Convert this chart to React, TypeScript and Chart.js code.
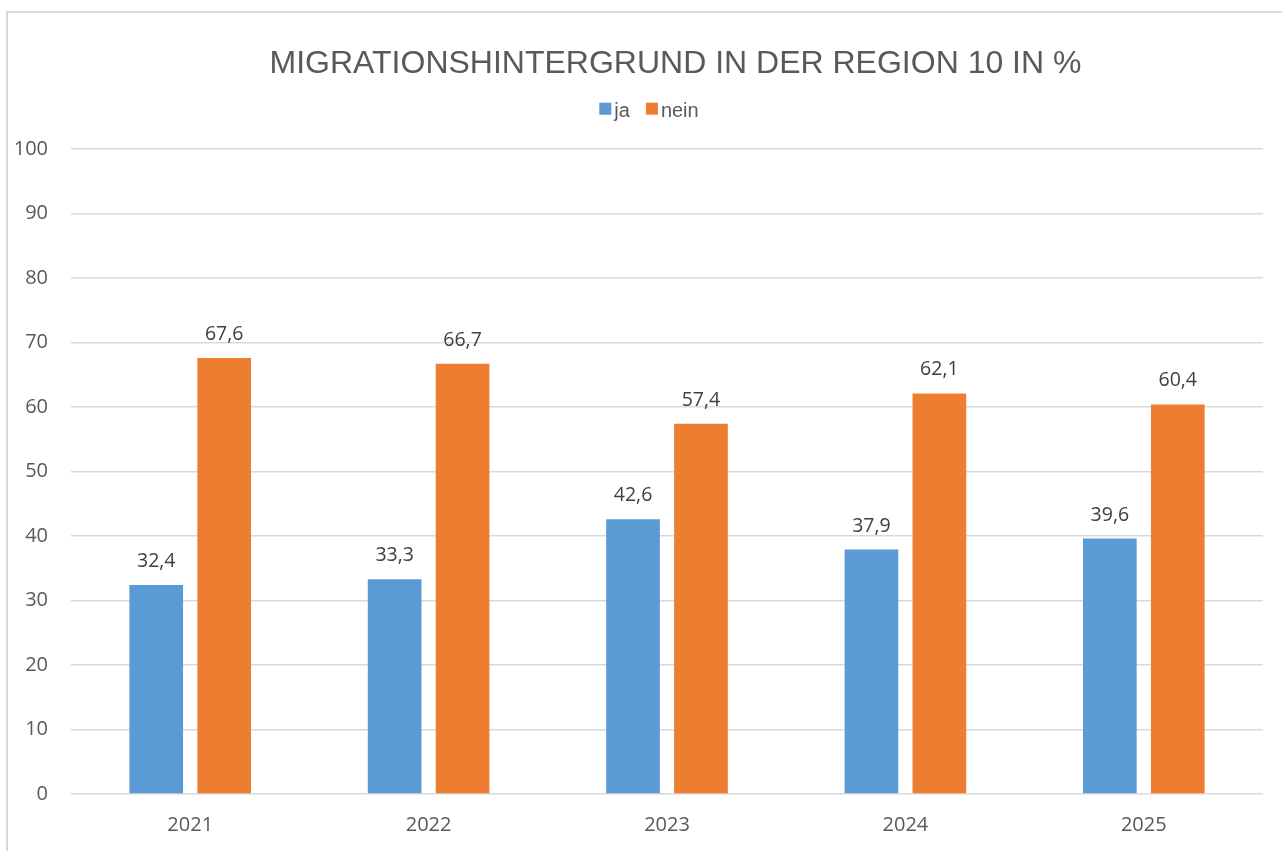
import React, { useEffect, useRef } from "react";
import { Chart, registerables } from "chart.js";

Chart.register(...registerables);

const TITLE = "MIGRATIONSHINTERGRUND IN DER REGION 10 IN %";
const years = ["2021", "2022", "2023", "2024", "2025"];
const seriesNames = ["ja", "nein"];
const jaValues = [32.4, 33.3, 42.6, 37.9, 39.6];
const neinValues = [67.6, 66.7, 57.4, 62.1, 60.4];
const colors = ["#5b9bd5", "#ed7d31"];
const yTicksMin = 0;
const yTicksMax = 100;
const yTicksStep = 10;

const fmt = (v: number) => v.toFixed(1).replace(".", ",");

const headerPlugin = {
  id: "headerPlugin",
  afterDraw(chart: any) {
    const ctx = chart.ctx;
    ctx.save();
    // Title
    ctx.font = "32px 'Liberation Sans', Arial, sans-serif";
    ctx.fillStyle = "#595959";
    ctx.textAlign = "center";
    ctx.textBaseline = "alphabetic";
    ctx.fillText(TITLE, 667.5, 59.5);
    // Legend
    ctx.font = "20px 'Liberation Sans', Arial, sans-serif";
    const box = 12;
    const gapText = 3;
    const gapItem = 16;
    const items = chart.data.datasets.map((d: any) => ({
      label: d.label,
      color: d.backgroundColor,
      w: ctx.measureText(d.label).width,
    }));
    let total = 0;
    items.forEach((it: any, i: number) => {
      total += box + gapText + it.w + (i < items.length - 1 ? gapItem : 0);
    });
    let x = 641 - total / 2;
    ctx.textAlign = "left";
    items.forEach((it: any) => {
      ctx.fillStyle = it.color;
      ctx.fillRect(x, 89.7, box, box);
      x += box + gapText;
      ctx.fillStyle = "#595959";
      ctx.fillText(it.label, x, 103.5);
      x += it.w + gapItem;
    });
    ctx.restore();
  },
};

const dataLabelPlugin = {
  id: "dataLabelPlugin",
  afterDatasetsDraw(chart: any) {
    const ctx = chart.ctx;
    ctx.save();
    ctx.font = "19.5px 'Open Sans', sans-serif";
    ctx.fillStyle = "#404040";
    ctx.textAlign = "center";
    ctx.textBaseline = "alphabetic";
    chart.data.datasets.forEach((ds: any, di: number) => {
      const meta = chart.getDatasetMeta(di);
      meta.data.forEach((el: any, i: number) => {
        ctx.fillText(fmt(ds.data[i]), el.x, el.y - 18);
      });
    });
    ctx.restore();
  },
};

export default function App() {
  const ref = useRef<HTMLCanvasElement | null>(null);
  useEffect(() => {
    if (!ref.current) return;
    const chart = new Chart(ref.current, {
      type: "bar",
      data: {
        labels: years,
        datasets: [
          { label: seriesNames[0], data: jaValues, backgroundColor: colors[0], categoryPercentage: 0.57, barPercentage: 0.79 },
          { label: seriesNames[1], data: neinValues, backgroundColor: colors[1], categoryPercentage: 0.57, barPercentage: 0.79 },
        ],
      },
      options: {
        animation: false,
        responsive: false,
        layout: { padding: { top: 136, left: 0, right: 19, bottom: 0 } },
        plugins: {
          legend: { display: false },
          title: { display: false },
          tooltip: { enabled: false },
        },
        scales: {
          x: {
            grid: { display: false, drawTicks: false },
            border: { display: false },
            ticks: {
              color: "#595959",
              font: { family: "'Open Sans', sans-serif", size: 20 },
              padding: 19,
            },
            afterFit(scale: any) {
              scale.height = 57;
            },
          },
          y: {
            min: yTicksMin,
            max: yTicksMax,
            grid: { color: "#d9d9d9", lineWidth: 1.5, drawTicks: false },
            border: { display: false },
            ticks: {
              stepSize: yTicksStep,
              color: "#595959",
              font: { family: "'Open Sans', sans-serif", size: 20 },
              padding: 23,
            },
            afterFit(scale: any) {
              scale.width = 63;
            },
          },
        },
      },
      plugins: [headerPlugin, dataLabelPlugin],
    } as any);
    return () => chart.destroy();
  }, []);

  return (
    <div style={{ position: "fixed", left: 0, top: 0, width: 1282, height: 851, background: "#fff", overflow: "hidden" }}>
      <div
        style={{
          position: "absolute",
          left: 6,
          top: 11,
          right: 0,
          bottom: 0,
          borderLeft: "2px solid #d9d9d9",
          borderTop: "2px solid #d9d9d9",
        }}
      />
      <canvas
        ref={ref}
        width={1274}
        height={838}
        style={{ position: "absolute", left: 8, top: 13, width: 1274, height: 838, display: "block" }}
      />
    </div>
  );
}
